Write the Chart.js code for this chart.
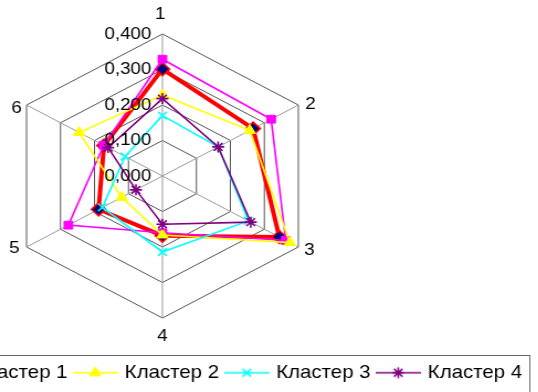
<!DOCTYPE html>
<html><head><meta charset="utf-8">
<script src="https://cdn.jsdelivr.net/npm/chart.js@4/dist/chart.umd.min.js"></script>
<style>
html,body{margin:0;padding:0;background:#fff;overflow:hidden;}
#view{position:absolute;left:0;top:0;width:538px;height:392px;overflow:hidden;background:#fff;}
#stretch{position:absolute;left:0;top:0;width:490px;height:392px;transform:scaleX(1.105);transform-origin:0 0;}
#c{position:absolute;left:-186px;top:0;}
</style></head><body>
<div id="view"><div id="stretch"><canvas id="c" width="666" height="392"></canvas></div></div>
<script>
// ---- data ----
const axisLabels = ['1', '2', '3', '4', '5', '6'];
const tickValues = [0, 0.1, 0.2, 0.3, 0.4];
const seriesNames = ['Среднее', 'Кластер 1', 'Кластер 2', 'Кластер 3', 'Кластер 4'];
const overall  = [0.301, 0.267, 0.344, 0.168, 0.188, 0.172];
const cluster1 = [0.329, 0.320, 0.363, 0.160, 0.277, 0.173];
const cluster2 = [0.228, 0.257, 0.375, 0.166, 0.120, 0.245];
const cluster3 = [0.170, 0.164, 0.253, 0.214, 0.177, 0.110];
const cluster4 = [0.218, 0.164, 0.260, 0.136, 0.078, 0.160];

// ---- styles ----
const FONT = '"Liberation Sans", Arial, sans-serif';
Chart.defaults.font.family = FONT;
const styles = [
  {line: '#FF0000', lw: 4,   ps: 'rectRot',  r: 6.5, bg: '#000080', bc: '#FF0000', bw: 1.5},
  {line: '#FF00FF', lw: 1.6, ps: 'rect',     r: 5.5, bg: '#FF00FF', bc: '#FF00FF', bw: 1},
  {line: '#FFFF00', lw: 1.6, ps: 'triangle', r: 6,   bg: '#FFFF00', bc: '#FFFF00', bw: 1},
  {line: '#00FFFF', lw: 1.6, ps: 'crossRot', r: 5.5, bg: '#00FFFF', bc: '#00FFFF', bw: 1.6},
  {line: '#800080', lw: 1.6, ps: 'star',     r: 5.5, bg: '#800080', bc: '#800080', bw: 1.6}
];
const values = [overall, cluster1, cluster2, cluster3, cluster4];

function makeIcon(s) {
  const c = document.createElement('canvas');
  c.width = 41; c.height = 16;
  const x = c.getContext('2d');
  x.strokeStyle = s.line; x.lineWidth = Math.min(s.lw, 2);
  x.beginPath(); x.moveTo(0, 8); x.lineTo(41, 8); x.stroke();
  x.fillStyle = s.bg; x.strokeStyle = s.bc; x.lineWidth = s.bw;
  if (Chart.helpers && Chart.helpers.drawPoint) {
    Chart.helpers.drawPoint(x, {pointStyle: s.ps, radius: s.r, borderWidth: s.bw, rotation: 0}, 20.5, 8);
  }
  return c;
}
const icons = styles.map(makeIcon);

const labelOffsets = [[-2, -20], [11, -1], [10, 3.5], [0, 18], [-11, 1], [-9, 3]];
const fmt = v => v.toFixed(3).replace('.', ',');

const textPlugin = {
  id: 'texts',
  afterDraw(chart) {
    const s = chart.scales.r, ctx = chart.ctx;
    ctx.save();
    ctx.font = '17px ' + FONT;
    ctx.fillStyle = '#000';
    ctx.textBaseline = 'middle';
    ctx.textAlign = 'right';
    tickValues.forEach(v => {
      const d = s.getDistanceFromCenterForValue(v);
      ctx.fillText(fmt(v), s.xCenter - 10, s.yCenter - d);
    });
    ctx.textAlign = 'center';
    axisLabels.forEach((lab, i) => {
      const p = s.getPointPosition(i, s.drawingArea);
      const o = labelOffsets[i];
      ctx.fillText(lab, p.x + o[0], p.y + o[1]);
    });
    const lg = chart.legend;
    ctx.strokeStyle = '#666';
    ctx.lineWidth = 1;
    ctx.strokeRect(-5, 355.5, lg.right - 0.5 + 5, 80);
    ctx.restore();
  }
};

new Chart(document.getElementById('c'), {
  type: 'radar',
  data: {
    labels: axisLabels,
    datasets: values.map((v, i) => ({
      label: seriesNames[i],
      data: v,
      order: 4 - i,
      fill: false,
      clip: false,
      borderColor: styles[i].line,
      borderWidth: styles[i].lw,
      pointStyle: styles[i].ps,
      pointRadius: styles[i].r,
      pointBackgroundColor: styles[i].bg,
      pointBorderColor: styles[i].bc,
      pointBorderWidth: styles[i].bw,
      tension: 0
    }))
  },
  options: {
    responsive: false,
    animation: false,
    devicePixelRatio: 1,
    layout: {padding: {top: 34, bottom: 0, left: 0, right: 0}},
    scales: {
      r: {
        min: 0, max: 0.4,
        ticks: {stepSize: 0.1, display: false},
        grid: {circular: false, color: '#555', lineWidth: 1},
        angleLines: {display: true, color: '#999', lineWidth: 1},
        pointLabels: {display: false}
      }
    },
    plugins: {
      tooltip: {enabled: false},
      legend: {
        position: 'bottom',
        align: 'end',
        title: {display: true, text: ' ', font: {size: 10}, padding: {top: 25, bottom: 0}},
        labels: {
          usePointStyle: true,
          pointStyleWidth: 35,
          boxHeight: 18.5,
          padding: 7.5,
          color: '#000',
          font: {size: 18.5},
          generateLabels: (chart) => chart.data.datasets.map((ds, i) => ({
            text: ds.label, pointStyle: icons[i], fillStyle: 'rgba(0,0,0,0)',
            strokeStyle: 'rgba(0,0,0,0)', lineWidth: 0, hidden: false,
            datasetIndex: i, fontColor: '#000'
          })),
          filter: (item) => item.datasetIndex > 0
        }
      }
    }
  },
  plugins: [textPlugin]
});
</script>
</body></html>
